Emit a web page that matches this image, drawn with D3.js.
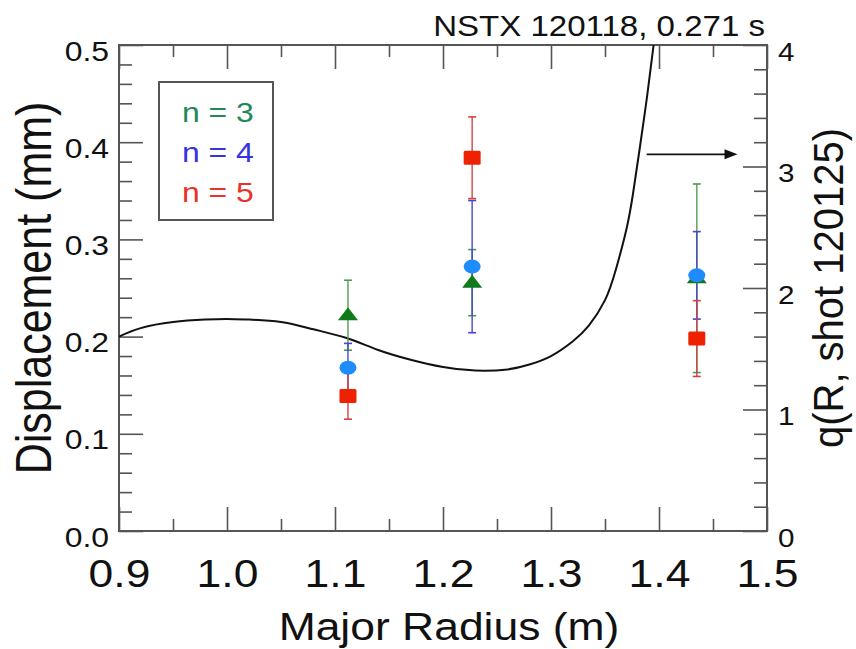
<!DOCTYPE html>
<html>
<head>
<meta charset="utf-8">
<script src="https://cdn.jsdelivr.net/npm/d3@7"></script>
<style>
  html, body { margin: 0; padding: 0; background: #fff; }
  svg text { font-family: "Liberation Sans", Arial, Helvetica, sans-serif; fill: #111; }
</style>
</head>
<body>
<div id="chart"></div>
<script>
/* ============================================================
   Displacement vs major radius, with q profile on right axis
   ============================================================ */

// measured points (major radius in m, displacement in mm)
const radius = [1.112, 1.227, 1.435];
const n3Val = [0.222, 0.2555, 0.260];
const n3Err = [0.036, 0.034, 0.097];
const n4Val = [0.168, 0.272, 0.263];
const n4Err = [0.025, 0.068, 0.045];
const n5Val = [0.139, 0.384, 0.198];
const n5Err = [0.024, 0.042, 0.039];

// q(R) profile, shot 120125
const qR = [0.90, 0.92, 0.95, 0.98, 1.00, 1.02, 1.05, 1.08, 1.11, 1.14, 1.17, 1.20, 1.23, 1.26,
            1.28, 1.30, 1.32, 1.335, 1.35, 1.36, 1.37, 1.376, 1.382, 1.389, 1.395, 1.40];
const qVal = [1.60, 1.67, 1.72, 1.74, 1.745, 1.74, 1.72, 1.66, 1.59, 1.49, 1.41, 1.35, 1.32, 1.33,
              1.37, 1.44, 1.56, 1.69, 1.90, 2.15, 2.49, 2.78, 3.14, 3.58, 4.0, 4.4];

// arrow pointing at the q axis: [R start, R end, q]
const qArrow = [1.3886, 1.4727, 3.1];

// ticks
const xTicks = [0.9, 1.0, 1.1, 1.2, 1.3, 1.4, 1.5];
const xMinor = [0.95, 1.05, 1.15, 1.25, 1.35, 1.45];
const yTicks = [0.0, 0.1, 0.2, 0.3, 0.4, 0.5];
const qTicks = [0, 1, 2, 3, 4];

const legendLabels = ['n = 3', 'n = 4', 'n = 5'];
const titleText = 'NSTX 120118, 0.271 s';

const COLORS = {
    n3: { line: '#4f9a4f', mark: '#0f7a1a', text: '#22885a' },
    n4: { line: '#4444cc', mark: '#1e8cff', text: '#3535e0' },
    n5: { line: '#d24040', mark: '#ee2200', text: '#e8332a' },
    axis: '#555'
};
const SX = 1.14;   // source picture is stretched horizontally

const W = 856, H = 649;
const plot = { left: 119, right: 767, top: 45, bottom: 531 };

const svg = d3.select('#chart').append('svg')
    .attr('width', W).attr('height', H);
svg.append('rect').attr('width', W).attr('height', H).attr('fill', '#fff');

const x = d3.scaleLinear().domain([0.9, 1.5]).range([plot.left, plot.right]);
const y = d3.scaleLinear().domain([0, 0.5]).range([plot.bottom, plot.top]);
const yq = d3.scaleLinear().domain([0, 4]).range([plot.bottom, plot.top]);

svg.append('defs').append('clipPath').attr('id', 'clip')
    .append('rect')
    .attr('x', plot.left).attr('y', plot.top)
    .attr('width', plot.right - plot.left).attr('height', plot.bottom - plot.top);

function stretched(sel, px, py, str) {
    return sel.append('text')
        .attr('transform', `translate(${px},${py}) scale(${SX},1)`)
        .text(str);
}

function styleAxis(g) {
    g.select('.domain').remove();
    g.selectAll('.tick line').attr('stroke', COLORS.axis).attr('stroke-width', 1.6);
}

// Axes (ticks pointing inward)
const bottomAx = svg.append('g').attr('transform', `translate(0,${plot.bottom})`)
    .call(d3.axisBottom(x).tickValues(xTicks).tickSize(-24).tickFormat(d3.format('.1f')));
bottomAx.call(styleAxis);
bottomAx.selectAll('text')
    .attr('y', 56).attr('dy', null)
    .attr('font-size', 39)
    .attr('transform', `scale(${SX},1)`);
svg.append('g').attr('transform', `translate(0,${plot.bottom})`)
    .call(d3.axisBottom(x).tickValues(xMinor).tickSize(-12).tickFormat('')).call(styleAxis);

svg.append('g').attr('transform', `translate(0,${plot.top})`)
    .call(d3.axisTop(x).tickValues(xTicks).tickSize(-24).tickFormat('')).call(styleAxis);
svg.append('g').attr('transform', `translate(0,${plot.top})`)
    .call(d3.axisTop(x).tickValues(xMinor).tickSize(-12).tickFormat('')).call(styleAxis);

const yMinor = d3.range(0, 0.5, 0.02).filter(v => Math.abs(v * 10 - Math.round(v * 10)) > 1e-6);
const leftAx = svg.append('g').attr('transform', `translate(${plot.left},0)`)
    .call(d3.axisLeft(y).tickValues(yTicks).tickSize(-24).tickFormat(d3.format('.1f')));
leftAx.call(styleAxis);
leftAx.selectAll('text')
    .attr('x', -10 / SX).attr('dy', null).attr('y', 15)
    .attr('font-size', 28)
    .attr('transform', `scale(${SX},1)`);
svg.append('g').attr('transform', `translate(${plot.left},0)`)
    .call(d3.axisLeft(y).tickValues(yMinor).tickSize(-13).tickFormat('')).call(styleAxis);

const qMinor = d3.range(0, 4, 0.2).filter(v => Math.abs(v - Math.round(v)) > 1e-6);
const rightAx = svg.append('g').attr('transform', `translate(${plot.right},0)`)
    .call(d3.axisRight(yq).tickValues(qTicks).tickSize(-24).tickFormat(d3.format('d')));
rightAx.call(styleAxis);
rightAx.selectAll('text')
    .attr('x', 11 / SX).attr('dy', null).attr('y', 15)
    .attr('font-size', 26)
    .attr('transform', `scale(${SX},1)`);
svg.append('g').attr('transform', `translate(${plot.right},0)`)
    .call(d3.axisRight(yq).tickValues(qMinor).tickSize(-13).tickFormat('')).call(styleAxis);

// frame
svg.append('rect')
    .attr('x', plot.left).attr('y', plot.top)
    .attr('width', plot.right - plot.left).attr('height', plot.bottom - plot.top)
    .attr('fill', 'none').attr('stroke', COLORS.axis).attr('stroke-width', 2);

// q profile
const qLine = d3.line().x(d => x(d[0])).y(d => yq(d[1])).curve(d3.curveNatural);
svg.append('path')
    .datum(qR.map((r, i) => [r, qVal[i]]))
    .attr('clip-path', 'url(#clip)')
    .attr('d', qLine)
    .attr('fill', 'none').attr('stroke', '#111').attr('stroke-width', 2);

// arrow to right axis
const ax0 = x(qArrow[0]), ax1 = x(qArrow[1]), ay = yq(qArrow[2]);
svg.append('line').attr('x1', ax0).attr('x2', ax1 - 10).attr('y1', ay).attr('y2', ay)
    .attr('stroke', '#111').attr('stroke-width', 1.8);
svg.append('path')
    .attr('d', `M${ax1},${ay} L${ax1 - 13},${ay - 5} L${ax1 - 13},${ay + 5} Z`)
    .attr('fill', '#111');

// error bars + markers
const series = [
    { vals: n3Val, errs: n3Err, c: COLORS.n3, shape: 'tri' },
    { vals: n4Val, errs: n4Err, c: COLORS.n4, shape: 'circ' },
    { vals: n5Val, errs: n5Err, c: COLORS.n5, shape: 'sq' }
];

series.forEach(s => {
    const g = svg.append('g');
    radius.forEach((r, i) => {
        const cx = x(r);
        const lo = y(s.vals[i] - s.errs[i]), hi = y(s.vals[i] + s.errs[i]);
        g.append('line').attr('x1', cx).attr('x2', cx).attr('y1', lo).attr('y2', hi)
            .attr('stroke', s.c.line).attr('stroke-width', 1.6).attr('opacity', 0.85);
        [lo, hi].forEach(yy => {
            g.append('line').attr('x1', cx - 4).attr('x2', cx + 4).attr('y1', yy).attr('y2', yy)
                .attr('stroke', s.c.line).attr('stroke-width', 1.6);
        });
    });
});

series.forEach(s => {
    const g = svg.append('g');
    radius.forEach((r, i) => {
        const cx = x(r), cy = y(s.vals[i]);
        if (s.shape === 'tri') {
            g.append('path')
                .attr('d', `M${cx},${cy - 8} L${cx + 10},${cy + 5} L${cx - 10},${cy + 5} Z`)
                .attr('fill', s.c.mark);
        } else if (s.shape === 'circ') {
            g.append('ellipse').attr('cx', cx).attr('cy', cy).attr('rx', 8.5).attr('ry', 7)
                .attr('fill', s.c.mark);
        } else {
            g.append('rect').attr('x', cx - 8.5).attr('y', cy - 7).attr('width', 17).attr('height', 14)
                .attr('rx', 1.5).attr('fill', s.c.mark);
        }
    });
});

// legend
const legend = svg.append('g');
legend.append('rect').attr('x', 159).attr('y', 82).attr('width', 114).attr('height', 138)
    .attr('fill', '#fff').attr('stroke', COLORS.axis).attr('stroke-width', 2);
[COLORS.n3, COLORS.n4, COLORS.n5].forEach((c, i) => {
    stretched(legend, 182, 122 + i * 40, legendLabels[i])
        .attr('font-size', 28).style('fill', c.text);
});

// titles
stretched(svg, 765, 36, titleText)
    .attr('font-size', 29).attr('text-anchor', 'end');
stretched(svg, (plot.left + plot.right) / 2 + 6, 640, 'Major Radius (m)')
    .attr('font-size', 39).attr('text-anchor', 'middle');
svg.append('text')
    .attr('transform', `translate(51,${(plot.top + plot.bottom) / 2}) scale(${SX},1) rotate(-90)`)
    .attr('text-anchor', 'middle').attr('font-size', 43)
    .text('Displacement (mm)');
svg.append('text')
    .attr('transform', `translate(843,${(plot.top + plot.bottom) / 2}) scale(1.05,1) rotate(-90)`)
    .attr('text-anchor', 'middle').attr('font-size', 40)
    .text('q(R, shot 120125)');
</script>
</body>
</html>
